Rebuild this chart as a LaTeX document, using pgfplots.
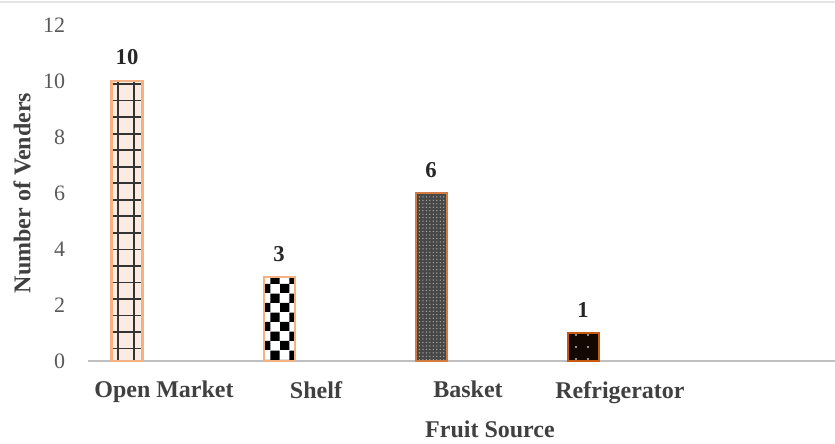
\documentclass[border=0pt]{standalone}
\usepackage{pgfplots}
\pgfplotsset{compat=1.18}
\usetikzlibrary{patterns,patterns.meta}
\usepackage{fontspec}
\setmainfont{Liberation Serif}

\definecolor{peach}{HTML}{F4B183}
\definecolor{rust}{HTML}{C55A11}
\definecolor{labgray}{HTML}{404040}
\definecolor{tickgray}{HTML}{595959}

% checker squares, bigger than the stock checkerboard
\pgfdeclarepatternformonly{checker}{\pgfpointorigin}{\pgfqpoint{14pt}{14pt}}{\pgfqpoint{14pt}{14pt}}{%
  \pgfpathrectangle{\pgfpointorigin}{\pgfqpoint{7pt}{7pt}}%
  \pgfpathrectangle{\pgfqpoint{7pt}{7pt}}{\pgfqpoint{7pt}{7pt}}%
  \pgfusepath{fill}}

\begin{document}
\begin{tikzpicture}
  % page = 835 x 443 px at 0.75pt/px, plot origin at (88px,361px)
  \useasboundingbox (-66pt,-61.5pt) rectangle (560.25pt,270.75pt);
  \draw[black!10, line width=0.8pt] (-66pt,269.25pt) -- (560.25pt,269.25pt);
  \begin{axis}[
    at={(0,0)}, anchor=south west,
    scale only axis,
    width=570pt, height=252pt,
    xmin=-0.5, xmax=4.5,
    ymin=0, ymax=12,
    ytick={0,2,...,12},
    xtick={0,1,2,3},
    xticklabels={Open Market, Shelf, Basket, Refrigerator},
    axis x line*=bottom,
    axis y line*=left,
    y axis line style={draw=none},
    x axis line style={draw=black!25, line width=1.5pt, -},
    major tick length=0pt,
    /pgf/number format/assume math mode=true,
    yticklabel style={font=\fontsize{16.5}{19}\selectfont, text=tickgray, anchor=east, inner sep=0pt, xshift=-17pt},
    xticklabel style={font=\fontsize{18}{21}\selectfont\bfseries, text=labgray, anchor=north, inner sep=0pt, yshift=-15pt},
    xlabel={Fruit Source},
    ylabel={Number of Venders},
    every axis x label/.style={at={(axis description cs:0,0)}, xshift=301.5pt, yshift=-51.5pt, anchor=center, font=\fontsize{18}{21}\selectfont\bfseries, text=labgray},
    every axis y label/.style={at={(axis description cs:0,0.5)}, xshift=-49.5pt, rotate=90, anchor=center, font=\fontsize{18}{21}\selectfont\bfseries, text=labgray},
    ybar,
    bar width=23.25pt,
    nodes near coords,
    every node near coord/.append style={font=\fontsize{17}{20}\selectfont\bfseries, text=black!85, anchor=south, inner sep=0pt, yshift=11pt},
  ]
    % Open Market
    \addplot[bar shift=-27.75pt, draw=peach, line width=2pt,
      preaction={fill=peach!25},
      pattern={Hatch[angle=0, distance=12.4pt, xshift=1.5pt, yshift=8.8pt, line width=1.3pt]}, pattern color=black!80]
      coordinates {(0,10)};
    % Shelf
    \addplot[bar shift=-27.75pt, draw=peach, line width=1.5pt,
      preaction={fill=white},
      pattern=checker, pattern color=black]
      coordinates {(1,3)};
    % Basket
    \addplot[bar shift=-27.75pt, draw=rust!80, line width=1.5pt,
      preaction={fill=black!72},
      pattern={Dots[distance=2.6pt, radius=0.55pt]}, pattern color=black!35]
      coordinates {(2,6)};
    % Refrigerator
    \addplot[bar shift=-27.75pt, draw=rust, line width=1.5pt,
      preaction={fill=black!90!rust},
      pattern={Dots[distance=9pt, radius=0.8pt]}, pattern color=white!75!black]
      coordinates {(3,1)};
  \end{axis}
\end{tikzpicture}
\end{document}
